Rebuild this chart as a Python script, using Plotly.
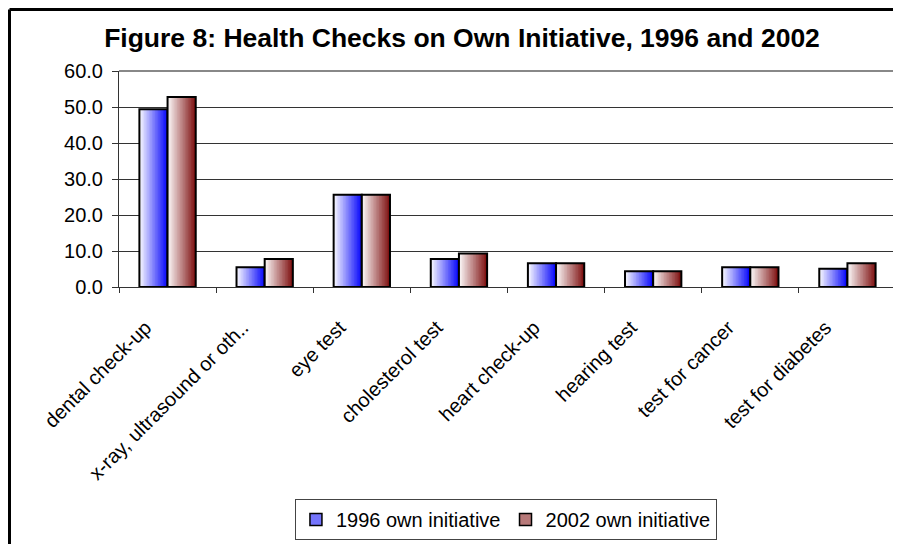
import plotly.graph_objects as go

# data
categories = ["dental check-up", "x-ray, ultrasound or oth..", "eye test", "cholesterol test",
              "heart check-up", "hearing test", "test for cancer", "test for diabetes"]
own_1996 = [49.4, 5.5, 25.6, 7.8, 6.6, 4.4, 5.5, 5.1]
own_2002 = [52.8, 7.8, 25.6, 9.3, 6.6, 4.4, 5.5, 6.6]
series_names = ["1996 own initiative", "2002 own initiative"]

FONT = "Arial, Liberation Sans, sans-serif"
BAR_W = 0.29
N_STRIPS = 18

# the page body adds an 8px margin, so the figure is 8px smaller and shifted by -8px
W, H = 893, 536
L, T, PW, PH = 111, 63, 777, 216


def mix(c1, c2, t):
    return "rgb({},{},{})".format(*[round(a + (b - a) * t) for a, b in zip(c1, c2)])


fig = go.Figure()

series = [
    (own_1996, series_names[0], -BAR_W, (246, 246, 255), (10, 10, 250)),
    (own_2002, series_names[1], 0.0, (250, 245, 245), (128, 20, 20)),
]

for values, name, base, light, dark in series:
    # gradient fill: thin vertical strips, light on the left, dark on the right
    step = BAR_W / N_STRIPS
    for i in range(N_STRIPS):
        t = i / (N_STRIPS - 1)
        fig.add_trace(go.Bar(
            x=categories, y=values, offset=base + i * step,
            width=step * (1.6 if i < N_STRIPS - 1 else 1.0),
            marker=dict(color=mix(light, dark, t), line=dict(width=0)),
            showlegend=False, hoverinfo="skip",
        ))
    # outline
    fig.add_trace(go.Bar(
        x=categories, y=values, offset=base, width=BAR_W, name=name,
        marker=dict(color="rgba(0,0,0,0)", line=dict(color="black", width=2)),
        showlegend=False,
    ))
    # legend entry
    fig.add_trace(go.Bar(
        x=categories, y=[None] * len(categories), offset=base, width=BAR_W, name=name,
        marker=dict(color=mix(light, dark, 0.55), line=dict(color="black", width=1.5)),
    ))

fx0 = (1.5 - L) / PW           # left edge of the outer frame, in paper units
fy1 = 1 + (T - 1.5) / PH       # top edge of the outer frame

fig.update_layout(
    width=W, height=H,
    barmode="overlay",
    paper_bgcolor="white", plot_bgcolor="white",
    font=dict(family=FONT, color="black"),
    margin=dict(l=L, r=W - L - PW, t=T, b=H - T - PH, autoexpand=False),
    title=dict(text="<b>Figure 8: Health Checks on Own Initiative, 1996 and 2002</b>",
               xref="paper", x=(454 - L) / PW, xanchor="center", y=1 - 30 / H, yanchor="middle",
               font=dict(size=26.5, family=FONT, color="black")),
    legend=dict(orientation="h", x=0.498, xanchor="center", y=-1.171, yanchor="bottom",
                bordercolor="#444", borderwidth=1, bgcolor="white",
                font=dict(size=20, family=FONT), itemwidth=30),
    xaxis=dict(showline=True, linecolor="#333", linewidth=1, ticks="outside",
               tickson="boundaries", ticklen=5, tickcolor="#333", tickangle=-45,
               ticklabelstandoff=20, ticklabelshift=-22,
               tickfont=dict(size=20, family=FONT), showgrid=False),
    yaxis=dict(range=[0, 60], dtick=10, tickformat=".1f", showline=True, linecolor="#333",
               linewidth=1, ticks="outside", ticklen=6, tickcolor="#333", ticklabelstandoff=5,
               tickfont=dict(size=20, family=FONT), showgrid=True, gridcolor="#333",
               gridwidth=1, zeroline=False),
    modebar=dict(bgcolor="rgba(0,0,0,0)", color="rgba(0,0,0,0)", activecolor="rgba(0,0,0,0)"),
    shapes=[
        # grey top and right plot border
        dict(type="line", xref="paper", yref="paper", x0=0, x1=1, y0=1, y1=1,
             line=dict(color="#888", width=2)),
        dict(type="line", xref="paper", yref="paper", x0=1, x1=1, y0=0, y1=1,
             line=dict(color="#888", width=2)),
        # outer chart frame (only its top and left edges fall inside the picture)
        dict(type="line", xref="paper", yref="paper", x0=fx0, x1=1.2, y0=fy1, y1=fy1,
             line=dict(color="black", width=3)),
        dict(type="line", xref="paper", yref="paper", x0=fx0, x1=fx0, y0=-1.4, y1=fy1,
             line=dict(color="black", width=3)),
    ],
)

fig.write_html("out.html")
